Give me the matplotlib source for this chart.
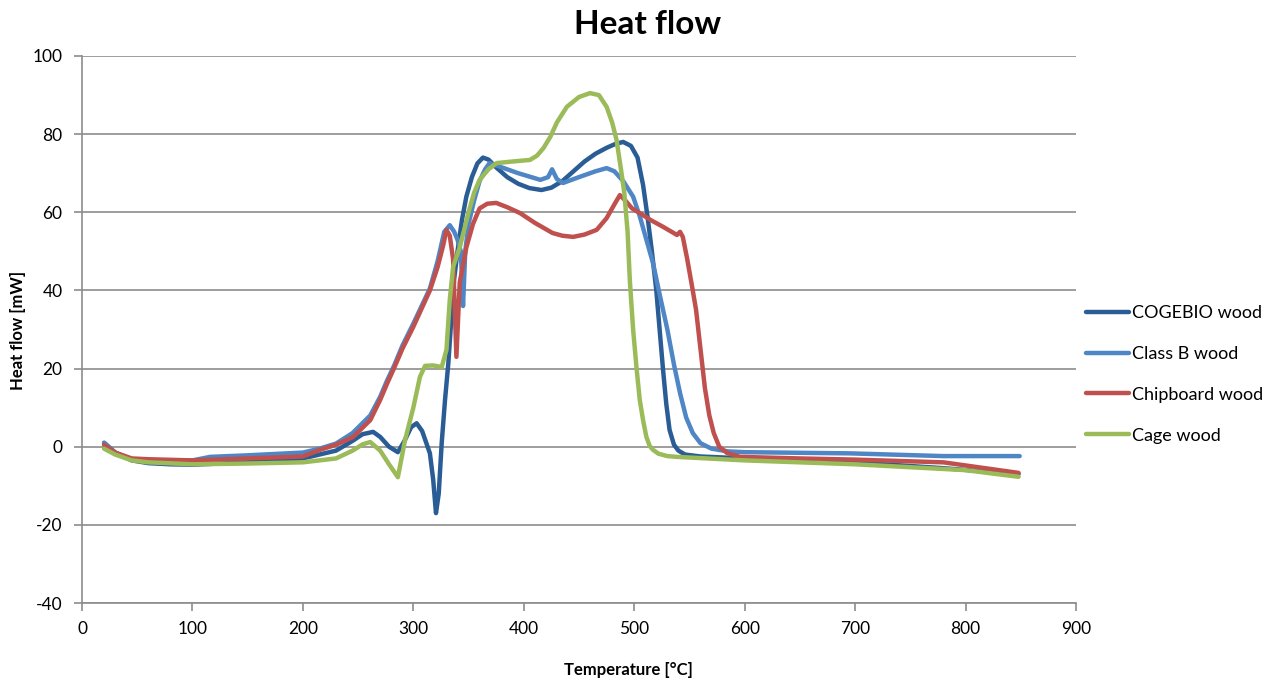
import matplotlib
matplotlib.use("Agg")
import matplotlib.pyplot as plt

# ---- data ----
cogebio_T = [20, 30, 45, 60, 80, 100, 150, 200, 230, 245, 254, 263.6, 270, 278, 286, 292, 298, 303, 308, 315, 318, 320.5, 323, 325.7, 328.7, 331.7, 334.7, 337, 340, 344, 348, 353, 358, 363, 368, 375, 385, 395, 405, 416, 425, 435, 445, 455, 465, 475, 483, 490, 497, 503, 508, 512, 516, 520, 523, 526, 529, 532, 536, 540, 546, 560, 600, 700, 780, 848]
cogebio_H = [1, -1.5, -3.5, -4.2, -4.5, -4.6, -4, -3, -1, 1.5, 3.2, 3.8, 2.5, 0, -1.4, 1.5, 5, 6, 4, -1.7, -8.5, -17, -12, 1, 12, 21.4, 34, 43, 50, 58, 64, 69, 72.5, 74, 73.5, 71.5, 69, 67.3, 66.2, 65.7, 66.3, 68, 70.5, 73, 75, 76.5, 77.5, 78, 77, 74, 67, 59, 50, 40, 30, 20, 11, 4.3, 0.5, -1, -2, -2.5, -3, -4, -5.5, -7]

classb_T = [20, 30, 45, 60, 80, 100, 116, 150, 200, 215, 230, 245, 261, 270, 276, 283, 290, 300, 315, 322, 328, 333, 337, 340, 343, 345, 347, 350, 355, 360, 365, 369, 380, 395, 415, 422, 425.6, 430, 435.5, 450, 465, 475, 482, 490, 499, 505, 511, 517, 523, 530, 536, 541.5, 547, 553, 560, 570, 585, 600, 695, 780, 849]
classb_H = [1, -1.5, -3.2, -3.8, -3.8, -3.5, -2.6, -2.2, -1.5, -0.5, 0.8, 3.5, 8, 12.8, 16.8, 21, 25.8, 31.5, 40.5, 47.5, 55, 56.7, 55, 53, 50, 36, 50, 57, 63, 68, 71, 72.6, 71.5, 70, 68.3, 69, 71, 68.5, 67.5, 69, 70.5, 71.3, 70.5, 68, 64, 59, 53, 47, 39, 30, 21, 13.7, 7.5, 3.5, 0.9, -0.5, -1.2, -1.4, -1.7, -2.4, -2.4]

chip_T = [20, 30, 45, 60, 100, 150, 200, 215.5, 230, 245.5, 261, 270, 276, 283, 290, 300, 315, 322, 327, 330, 333, 336, 339, 342, 348, 354, 360, 367, 375, 385, 396.6, 410, 426, 435, 444.6, 455, 466, 475, 482, 487, 492, 498, 505, 515, 526, 538.7, 541.5, 544, 548, 553, 556, 560, 564, 568, 572, 577, 584, 596, 650, 700, 780, 848]
chip_H = [0.5, -1.5, -3, -3.2, -3.5, -3, -2.5, -0.8, 0.5, 2.5, 6.8, 12, 16, 20.4, 25, 30.7, 40, 46, 51.5, 55.5, 54, 48, 23, 42, 51, 57, 61, 62.2, 62.4, 61.3, 59.8, 57.3, 54.7, 54, 53.7, 54.3, 55.5, 58.5, 62, 64.4, 63, 61, 59.8, 58, 56.3, 54.2, 55, 53.7, 48, 40, 35, 25, 15, 8, 3.5, 0, -1.6, -2.6, -3, -3.3, -4, -6.7]

cage_T = [20, 30, 45, 60, 100, 150, 200, 230, 245, 254, 261, 270, 278, 286, 292.5, 300, 306, 310.6, 318, 325.7, 330, 333, 336, 342, 350, 355, 360, 368, 375.5, 390, 405.6, 412, 418, 424, 430, 439, 450, 460, 468, 475, 480, 484, 488, 491, 494, 496, 499, 502, 505, 508, 511, 514, 517, 522, 530, 538.7, 600, 700, 800, 848]
cage_H = [-0.5, -2, -3.5, -4, -4.5, -4.3, -4, -3, -1, 0.6, 1.2, -1, -4.5, -7.8, 1.7, 10, 17.9, 20.7, 20.8, 20.4, 24.8, 37.6, 46, 51, 60, 65, 68.3, 71, 72.6, 73, 73.4, 74.5, 76.5, 79.3, 83, 87, 89.5, 90.5, 90, 87, 83, 78.5, 71, 65, 55, 42.7, 30, 20.4, 12, 6.8, 2.5, 0.2, -0.8, -1.8, -2.4, -2.6, -3.5, -4.5, -6, -7.7]

series_names = ["COGEBIO wood", "Class B wood", "Chipboard wood", "Cage wood"]
series_colors = ["#2A5C96", "#4F86C6", "#C0504D", "#9BBB59"]

x_ticks = list(range(0, 901, 100))
y_ticks = list(range(-40, 101, 20))

# ---- figure ----
plt.rcParams['font.family'] = ['Lato', 'DejaVu Sans']
plt.rcParams['axes.unicode_minus'] = False
W, H = 1282, 686
fig = plt.figure(figsize=(W / 100, H / 100), dpi=100)
ax = fig.add_axes([82 / W, 1 - 603 / H, (1076 - 82) / W, (603 - 56) / H])

for T, Hf, name, c in zip([cogebio_T, classb_T, chip_T, cage_T],
                          [cogebio_H, classb_H, chip_H, cage_H],
                          series_names, series_colors):
    ax.plot(T, Hf, color=c, lw=3.2, label=name,
            solid_joinstyle='round', solid_capstyle='round')

ax.set_xlim(0, 900)
ax.set_ylim(-40, 100)
ax.set_xticks(x_ticks)
ax.set_yticks(y_ticks)
ax.yaxis.grid(True, color="#8c8c8c", lw=1.2)
ax.set_axisbelow(True)
for s in ["top", "right"]:
    ax.spines[s].set_visible(False)
for s in ["left", "bottom"]:
    ax.spines[s].set_color("#8c8c8c")
    ax.spines[s].set_linewidth(1.2)
ax.tick_params(axis='both', colors="#8c8c8c", labelcolor="black",
               labelsize=12.5, length=6, width=1.2)
ax.tick_params(axis='x', pad=7)
ax.tick_params(axis='y', pad=8)

fig.text(648 / W, 1 - 25 / H, "Heat flow", fontsize=24, fontweight="bold",
         ha="center", va="center")
fig.text(628 / W, 1 - 670 / H, "Temperature [°C]", fontsize=12, fontweight="bold",
         ha="center", va="center")
fig.text(18 / W, 1 - 330 / H, "Heat flow [mW]", fontsize=12, fontweight="bold",
         ha="center", va="center", rotation=90)

leg = ax.legend(loc="center left", bbox_to_anchor=(1.0, 0.418), frameon=False,
                fontsize=13, handlelength=2.4, labelspacing=1.38,
                handletextpad=0.15, borderaxespad=0.15)

fig.savefig("out.png", dpi=100, facecolor="white")
